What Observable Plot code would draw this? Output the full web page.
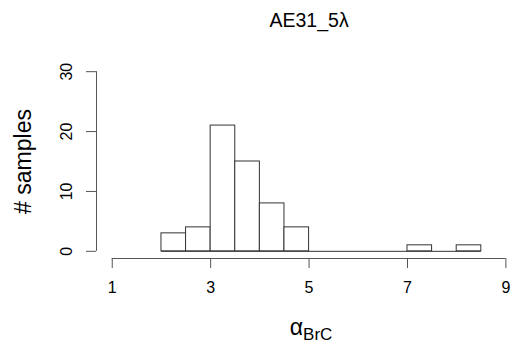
<!DOCTYPE html>
<html>
<head>
<meta charset="utf-8">
<script src="https://cdn.jsdelivr.net/npm/d3@7"></script>
<script src="https://cdn.jsdelivr.net/npm/@observablehq/plot@0.6"></script>
<style>
  html, body { margin: 0; padding: 0; background: #fff; }
</style>
</head>
<body>
<div id="chart"></div>
<script>
const titleText = "AE31_5λ";
const yLabel = "# samples";
const xLabelMain = "α";
const xLabelSub = "BrC";
const breaks = [2, 2.5, 3, 3.5, 4, 4.5, 5, 5.5, 6, 6.5, 7, 7.5, 8, 8.5];
const counts = [3, 4, 21, 15, 8, 4, 0, 0, 0, 0, 1, 0, 1];
const xTicks = [1, 3, 5, 7, 9];
const yTicks = [0, 10, 20, 30];

const bins = counts.map((c, i) => ({x1: breaks[i], x2: breaks[i + 1], count: c}));
const xDomain = [0.68, 9.195];
const yDomain = [-1.2, 31.2];
const xMid = (xTicks[0] + xTicks[xTicks.length - 1]) / 2;

const axisColor = "#555";
const barColor = "#333";

const chart = Plot.plot({
  width: 515,
  height: 347,
  marginLeft: 96,
  marginRight: 0,
  marginTop: 64,
  marginBottom: 89,
  style: {fontFamily: "'Liberation Sans', Arial, sans-serif", fontSize: "16px", color: "#000", background: "#fff"},
  x: {domain: xDomain},
  y: {domain: yDomain},
  marks: [
    Plot.ruleY([0], {x1: breaks[0], x2: breaks[breaks.length - 1], stroke: barColor, strokeWidth: 1}),
    Plot.rect(bins.filter(d => d.count > 0), {x1: "x1", x2: "x2", y1: 0, y2: "count", fill: "#fff", stroke: barColor, strokeWidth: 1, inset: 0}),
    Plot.ruleY([yDomain[0]], {x1: xTicks[0], x2: xTicks[xTicks.length - 1], stroke: axisColor}),
    Plot.ruleX([xDomain[0]], {y1: yTicks[0], y2: yTicks[yTicks.length - 1], stroke: axisColor}),
    Plot.axisX({ticks: xTicks, tickSize: 10, tickPadding: 13, stroke: axisColor, fill: "#000", fontSize: 16, label: null, tickFormat: d => String(d)}),
    Plot.axisY({ticks: yTicks, tickSize: 10, tickPadding: 15, stroke: axisColor, fill: "#000", fontSize: 16, label: null, tickRotate: -90, textAnchor: "middle", lineAnchor: "bottom", tickFormat: d => String(d)}),
    Plot.text([titleText], {x: xMid, frameAnchor: "top", lineAnchor: "bottom", dy: -38, fontSize: 19.5, fill: "#000", text: d => d}),
    Plot.text([yLabel], {frameAnchor: "left", rotate: -90, textAnchor: "middle", lineAnchor: "bottom", dx: -66, fontSize: 23, fill: "#000", text: d => d}),
    Plot.text([xLabelMain], {x: xMid, frameAnchor: "bottom", textAnchor: "end", lineAnchor: "bottom", dx: -6, dy: 76, fontSize: 23, fill: "#000", text: d => d}),
    Plot.text([xLabelSub], {x: xMid, frameAnchor: "bottom", textAnchor: "start", lineAnchor: "bottom", dx: -6, dy: 81, fontSize: 17, fill: "#000", text: d => d})
  ]
});
document.getElementById("chart").appendChild(chart);
</script>
</body>
</html>
